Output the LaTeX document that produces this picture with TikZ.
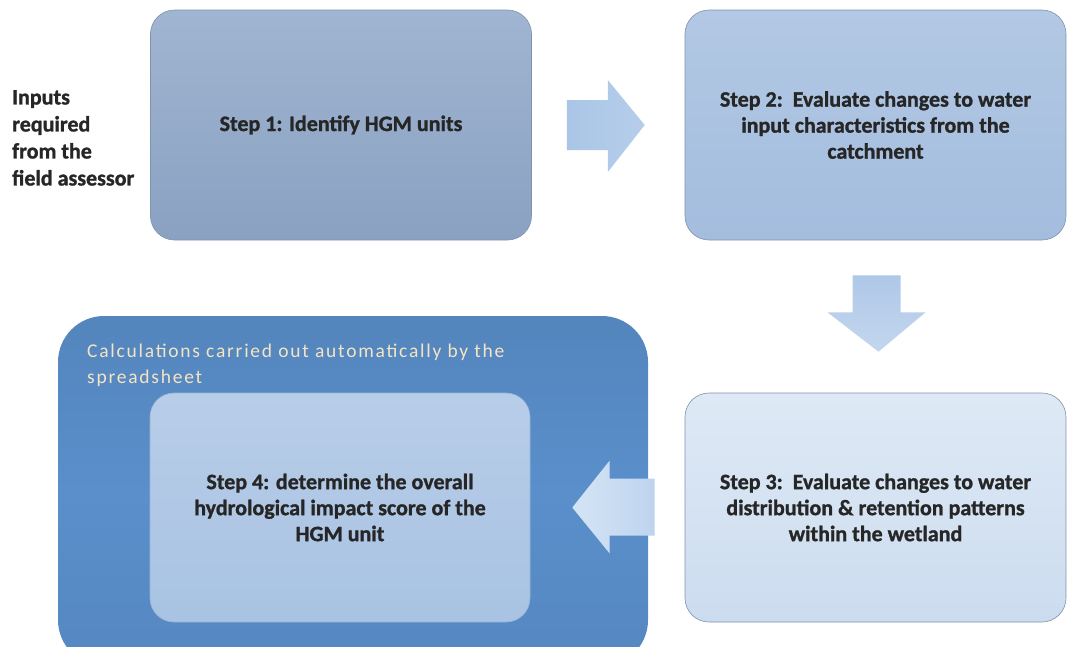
\documentclass[tikz,border=0pt]{standalone}
\usepackage{fontspec}
\setmainfont{Carlito}
\newfontfamily\heavy[FakeBold=1.2]{Carlito Bold}
\newfontfamily\spaced[LetterSpace=9]{Carlito}
\usetikzlibrary{calc}
\definecolor{outerblue}{HTML}{5A8FCB}
\definecolor{calctext}{HTML}{F4E4C4}
\definecolor{edge}{HTML}{7F93AD}
\tikzset{
  stepbox/.style={rounded corners=24pt, draw=edge, line width=0.6pt,
    minimum width=381pt, minimum height=230pt, inner sep=0pt,
    align=center, font=\heavy\fontsize{22}{26}\selectfont, text=black!85},
  arrowfill/.style={draw=none},
  label/.style={align=left, anchor=north west, inner sep=0pt,
    font=\heavy\fontsize{22}{27}\selectfont, text=black!85}
}
\begin{document}
\begin{tikzpicture}[x=1pt,y=-1pt]
\useasboundingbox (0,0) rectangle (1067,646);
\fill[white] (0,0) rectangle (1067,646);

% outer panel for the automatic calculations
\begin{scope}
\clip (0,0) rectangle (1067,646);
\node[rounded corners=46pt, minimum width=590pt, minimum height=350pt,
  inner sep=0pt, top color=outerblue!93!black, bottom color=outerblue!95!black,
  middle color=outerblue, draw=none] (panel) at (353,491) {};
\end{scope}
\node[anchor=north west, inner sep=0pt, align=left, text=calctext,
  font=\spaced\fontsize{19.5}{26}\selectfont] (calc) at (87,344)
  {Calculations carried out automatically by the\\spreadsheet};

% the four steps
\node[stepbox, top color={rgb,255:red,160;green,181;blue,209},
  bottom color={rgb,255:red,138;green,161;blue,194}] (s1) at (341,125)
  {Step 1: Identify HGM units};
\node[stepbox, top color={rgb,255:red,178;green,200;blue,228},
  bottom color={rgb,255:red,164;green,189;blue,222}] (s2) at (875.5,125)
  {Step 2:\ \ Evaluate changes to water\\input characteristics from the\\catchment};
\node[stepbox, top color={rgb,255:red,222;green,233;blue,245},
  bottom color={rgb,255:red,204;green,220;blue,239}, minimum height=229pt] (s3) at (875.5,507.5)
  {Step 3:\ \ Evaluate changes to water\\distribution \& retention patterns\\within the wetland};
\node[stepbox, draw={rgb,255:red,150;green,180;blue,215}, minimum width=380pt, minimum height=229pt,
  top color={rgb,255:red,184;green,205;blue,232},
  bottom color={rgb,255:red,168;green,195;blue,227}] (s4) at (340,507.5)
  {Step 4: determine the overall\\hydrological impact score of the\\HGM unit};

% left-hand note
\node[label] (inputs) at (12,90) {Inputs\\required\\from the\\field assessor};

% block arrows between the steps
\path[arrowfill, left color={rgb,255:red,170;green,197;blue,230},
  right color={rgb,255:red,182;green,206;blue,235}]
  ($(s1.east)+(35,-25)$) -- ++(41,0) -- ++(0,-20) -- ($(s2.west)+(-40,0)$)
  -- ($(s1.east)+(76,47)$) -- ++(0,-22) -- ++(-41,0) -- cycle;
\path[arrowfill, top color={rgb,255:red,175;green,200;blue,232},
  bottom color={rgb,255:red,195;green,214;blue,238}]
  ($(s2.south)+(-23,35)$) -- ++(0,37) -- ++(-25,0) -- ($(s3.north)+(3,-41)$)
  -- ($(s2.south)+(50,72)$) -- ++(-25,0) -- ++(0,-37) -- cycle;
\path[arrowfill, right color={rgb,255:red,190;green,212;blue,238},
  left color={rgb,255:red,212;green,228;blue,245}]
  ($(s3.west)+(-30,-29)$) -- ++(-45,0) -- ++(0,-18) -- ($(s4.east)+(42,0)$)
  -- ($(s3.west)+(-75,46)$) -- ++(0,-18) -- ++(45,0) -- cycle;

\end{tikzpicture}
\end{document}
